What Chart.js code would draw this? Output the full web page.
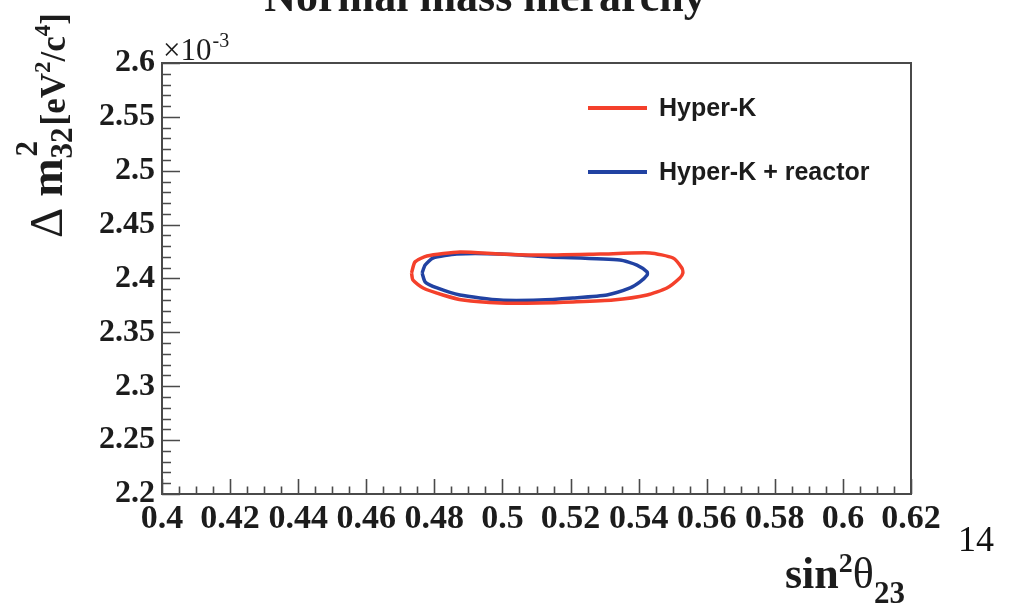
<!DOCTYPE html>
<html>
<head>
<meta charset="utf-8">
<script src="https://cdn.jsdelivr.net/npm/chart.js@4/dist/chart.umd.min.js"></script>
<style>
  html, body { margin: 0; padding: 0; background: #ffffff; }
  #wrap { width: 1009px; height: 606px; position: relative; }
  canvas { display: block; }
</style>
</head>
<body>
<div id="wrap"><canvas id="c" width="1009" height="606"></canvas></div>
<script>
// 1-sigma contours in the (sin^2 theta23, dm^2_32) plane, dm^2 in units of 1e-3 eV^2/c^4
const hkX = [0.4733, 0.4743, 0.4778, 0.4875, 0.4993, 0.5110, 0.5287, 0.5433, 0.5501, 0.5527, 0.5530, 0.5521,
             0.5483, 0.5425, 0.5325, 0.5207, 0.5110, 0.4993, 0.4884, 0.4825, 0.4767, 0.4737, 0.4733];
const hkY = [2.4051, 2.4153, 2.4209, 2.4246, 2.4227, 2.4217, 2.4227, 2.4237, 2.4190, 2.4097, 2.4051, 2.4005,
             2.3912, 2.3847, 2.3800, 2.3782, 2.3773, 2.3773, 2.3800, 2.3847, 2.3912, 2.3986, 2.4051];

const hkrX = [0.4764, 0.4773, 0.4796, 0.4866, 0.4993, 0.5140, 0.5345, 0.5395, 0.5425, 0.5425, 0.5404,
              0.5375, 0.5307, 0.5207, 0.5110, 0.4993, 0.4875, 0.4808, 0.4773, 0.4764];
const hkrY = [2.4051, 2.4125, 2.4190, 2.4227, 2.4227, 2.4200, 2.4172, 2.4125, 2.4060, 2.4032, 2.3968,
              2.3912, 2.3847, 2.3819, 2.3800, 2.3800, 2.3847, 2.3912, 2.3968, 2.4051];

const seriesNames = ['Hyper-K', 'Hyper-K + reactor'];
const seriesColors = ['#f4402b', '#2142a2'];

const xTickLabels = ['0.4', '0.42', '0.44', '0.46', '0.48', '0.5', '0.52', '0.54', '0.56', '0.58', '0.6', '0.62'];
const yTickLabels = ['2.2', '2.25', '2.3', '2.35', '2.4', '2.45', '2.5', '2.55', '2.6'];

const SERIF = '"Liberation Serif", "DejaVu Serif", serif';
const SANS = '"Liberation Sans", Arial, sans-serif';
const INK = '#1c1c1c';

function toPoints(xs, ys) { return xs.map((x, i) => ({ x: x, y: ys[i] })); }

// frame, inward tick marks, legend and all text decorations
const decorations = {
  id: 'decorations',
  afterDatasetsDraw(chart) {
    const ctx = chart.ctx;
    const a = chart.chartArea;
    const xs = chart.scales.x, ys = chart.scales.y;
    ctx.save();

    // tick marks pointing into the frame
    ctx.strokeStyle = '#4a4a4a';
    ctx.lineWidth = 1.6;
    ctx.beginPath();
    for (let i = 0; i <= 44; i++) {
      const px = Math.round(xs.getPixelForValue(0.4 + i * 0.005)) + 0.5;
      const len = (i % 4 === 0) ? 15 : 7.5;
      ctx.moveTo(px, a.bottom);
      ctx.lineTo(px, a.bottom - len);
    }
    for (let i = 0; i <= 40; i++) {
      const py = Math.round(ys.getPixelForValue(2.2 + i * 0.01)) + 0.5;
      const len = (i % 5 === 0) ? 18 : 9;
      ctx.moveTo(a.left, py);
      ctx.lineTo(a.left + len, py);
    }
    ctx.stroke();

    // frame
    ctx.strokeStyle = '#4a4a4a';
    ctx.lineWidth = 2;
    ctx.strokeRect(a.left, a.top, a.right - a.left, a.bottom - a.top);

    // legend
    const legendY = [108, 172];
    chart.data.datasets.forEach((ds, i) => {
      ctx.strokeStyle = ds.borderColor;
      ctx.lineWidth = 4;
      ctx.beginPath();
      ctx.moveTo(588, legendY[i]);
      ctx.lineTo(647, legendY[i]);
      ctx.stroke();
      ctx.fillStyle = INK;
      ctx.font = 'bold 25px ' + SANS;
      ctx.textBaseline = 'middle';
      ctx.textAlign = 'left';
      ctx.fillText(ds.label, 659, legendY[i] + 1);
    });

    ctx.fillStyle = INK;
    ctx.textBaseline = 'alphabetic';
    ctx.textAlign = 'left';

    // title (runs off the top edge)
    ctx.font = 'bold 44px ' + SERIF;
    ctx.textAlign = 'center';
    ctx.fillText('Normal mass hierarchy', 485, 11);
    ctx.textAlign = 'left';

    // exponent of the y axis
    ctx.font = '31px ' + SERIF;
    ctx.fillText('\u00d710', 163, 60);
    let w = ctx.measureText('\u00d710').width;
    ctx.font = '20px ' + SERIF;
    ctx.fillText('-3', 163 + w + 1, 47);

    // x axis title: sin^2 theta_23
    let x = 785;
    ctx.font = 'bold 44px ' + SERIF;
    ctx.fillText('sin', x, 588);
    x += ctx.measureText('sin').width;
    ctx.font = 'bold 28px ' + SERIF;
    ctx.fillText('2', x, 572);
    x += ctx.measureText('2').width;
    ctx.font = '44px ' + SERIF;
    ctx.fillText('\u03b8', x, 588);
    x += ctx.measureText('\u03b8').width;
    ctx.font = 'bold 31px ' + SERIF;
    ctx.fillText('23', x, 603);

    // y axis title: Delta m^2_32 [eV^2/c^4], rotated
    ctx.save();
    ctx.translate(62, 238);
    ctx.rotate(-Math.PI / 2);
    let u = 0;
    ctx.font = '47px ' + SERIF;
    ctx.fillText('\u0394', u, 0);
    u += ctx.measureText('\u0394').width + 11;
    ctx.font = 'bold 46px ' + SERIF;
    ctx.fillText('m', u, 0);
    u += ctx.measureText('m').width;
    ctx.font = 'bold 31px ' + SERIF;
    ctx.fillText('2', u + 2, -25);
    ctx.fillText('32', u, 10);
    u += ctx.measureText('32').width + 2;
    ctx.font = 'bold 35px ' + SERIF;
    ctx.fillText('[eV', u, 3);
    u += ctx.measureText('[eV').width;
    ctx.font = 'bold 23px ' + SERIF;
    ctx.fillText('2', u, -12);
    u += ctx.measureText('2').width;
    ctx.font = 'bold 35px ' + SERIF;
    ctx.fillText('/c', u, 3);
    u += ctx.measureText('/c').width;
    ctx.font = 'bold 23px ' + SERIF;
    ctx.fillText('4', u, -12);
    u += ctx.measureText('4').width;
    ctx.font = 'bold 35px ' + SERIF;
    ctx.fillText(']', u, 3);
    ctx.restore();

    // page number
    ctx.font = '36px ' + SERIF;
    ctx.fillStyle = '#111111';
    ctx.fillText('14', 958, 551);

    ctx.restore();
  }
};

new Chart(document.getElementById('c'), {
  type: 'scatter',
  data: {
    datasets: [
      {
        label: seriesNames[0],
        data: toPoints(hkX, hkY),
        showLine: true,
        borderColor: seriesColors[0],
        borderWidth: 3.5,
        pointRadius: 0,
        tension: 0.2,
        fill: false
      },
      {
        label: seriesNames[1],
        data: toPoints(hkrX, hkrY),
        showLine: true,
        borderColor: seriesColors[1],
        borderWidth: 3.5,
        pointRadius: 0,
        tension: 0.2,
        fill: false
      }
    ]
  },
  options: {
    responsive: false,
    animation: false,
    events: [],
    layout: { padding: { top: 63, right: 98, left: 0, bottom: 0 } },
    plugins: { legend: { display: false }, tooltip: { enabled: false } },
    scales: {
      x: {
        type: 'linear',
        min: 0.4,
        max: 0.62,
        grid: { display: false, drawTicks: false },
        border: { display: false },
        ticks: {
          stepSize: 0.02,
          autoSkip: false,
          maxRotation: 0,
          padding: 5,
          color: INK,
          font: { family: SERIF, weight: 'bold', size: 34 },
          callback: (v, i) => xTickLabels[i]
        },
        afterFit: s => { s.height = 112; }
      },
      y: {
        type: 'linear',
        min: 2.2,
        max: 2.6,
        grid: { display: false, drawTicks: false },
        border: { display: false },
        ticks: {
          stepSize: 0.05,
          autoSkip: false,
          padding: 7,
          color: INK,
          font: { family: SERIF, weight: 'bold', size: 32 },
          callback: (v, i) => yTickLabels[i]
        },
        afterFit: s => { s.width = 162; }
      }
    }
  },
  plugins: [decorations]
});
</script>
</body>
</html>
